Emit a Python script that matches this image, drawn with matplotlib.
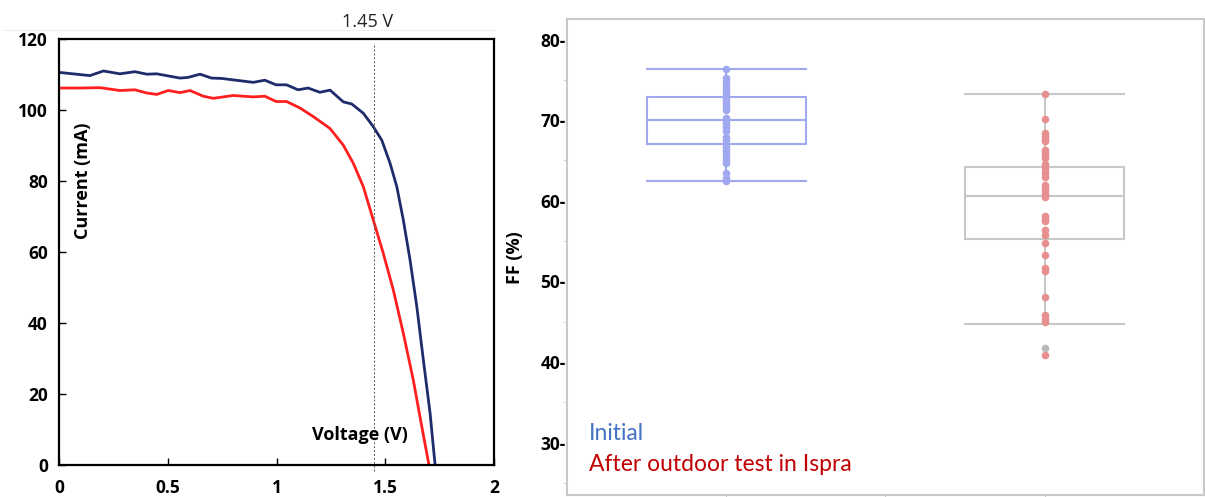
import numpy as np
import matplotlib.pyplot as plt
from matplotlib.ticker import MultipleLocator

# ---- J-V curves (left) ----
v_initial = [0.0, 0.142, 0.204, 0.28, 0.349, 0.403, 0.449, 0.556, 0.594, 0.648,
             0.701, 0.747, 0.893, 0.946, 0.998, 1.046, 1.099, 1.145, 1.199, 1.246,
             1.307, 1.346, 1.399, 1.445, 1.484, 1.522, 1.553, 1.583, 1.614, 1.645,
             1.675, 1.706, 1.729]
i_initial = [110.6, 109.7, 111.0, 110.2, 110.8, 110.1, 110.2, 109.0, 109.2, 110.1,
             109.0, 108.9, 107.8, 108.4, 107.1, 107.1, 105.7, 106.2, 105.0, 105.6,
             102.3, 101.7, 99.1, 95.3, 91.5, 85.0, 78.4, 69.0, 57.7, 44.6,
             29.6, 14.6, 0.0]

v_after = [0.0, 0.096, 0.188, 0.28, 0.349, 0.403, 0.449, 0.502, 0.556, 0.602,
           0.663, 0.709, 0.801, 0.893, 0.946, 0.998, 1.046, 1.107, 1.168, 1.246,
           1.307, 1.353, 1.399, 1.445, 1.491, 1.537, 1.583, 1.629, 1.668, 1.701]
i_after = [106.2, 106.2, 106.3, 105.5, 105.7, 104.8, 104.4, 105.5, 104.9, 105.5,
           103.9, 103.3, 104.1, 103.7, 103.9, 102.4, 102.4, 100.6, 98.2, 94.8,
           90.1, 85.0, 78.4, 69.0, 59.6, 49.3, 37.1, 23.9, 10.8, 0.0]

v_mark = 1.45

# ---- FF distributions (right) ----
groups = ["Initial", "After outdoor test in Ispra"]
ff_initial = [76.3, 75.2, 74.8, 74.4, 74.0, 73.6, 73.2, 72.8, 72.4, 72.0, 71.6, 71.2,
              70.3, 69.9, 69.5, 69.1, 68.7, 67.9, 67.5, 67.1, 66.7, 66.3, 65.9,
              65.5, 65.1, 64.7, 63.5, 62.8, 62.4]
ff_after = [73.2, 70.1, 68.4, 68.0, 67.6, 67.4, 66.3, 65.9, 65.6, 65.3, 64.6, 64.3,
            64.0, 63.5, 63.0, 61.9, 61.6, 61.2, 60.9, 60.5, 58.1, 57.8, 57.5, 56.4,
            55.8, 54.8, 53.3, 51.7, 51.3, 48.1, 45.8, 45.3, 44.9, 40.9]
ff_after_gray = [41.7]

# box statistics as drawn: lower whisker, Q1, median, Q3, upper whisker
box_initial = [62.4, 67.1, 70.0, 72.9, 76.3]
box_after = [44.7, 55.2, 60.6, 64.2, 73.2]

fig = plt.figure(figsize=(12.05, 4.97), dpi=100)
plt.rcParams['font.family'] = ['Open Sans', 'DejaVu Sans']

# left panel
ax1 = fig.add_axes([0.049, 0.064, 0.361, 0.8575])
ax1.plot(v_initial, i_initial, color='#1f2c6b', lw=2)
ax1.plot(v_after, i_after, color='#ff1f1f', lw=2)
ax1.plot([v_mark, v_mark], [-1.5, 119], color='#555555', lw=0.7,
         ls=(0, (2, 2)), clip_on=False)
ax1.set_xlim(0, 2)
ax1.set_ylim(0, 120)
ax1.set_xticks([0, 0.5, 1, 1.5, 2])
ax1.set_xticklabels(['0', '0.5', '1', '1.5', '2'])
ax1.set_yticks(range(0, 121, 20))
ax1.tick_params(direction='in', length=5, width=1, labelsize=12.5, pad=8)
ax1.tick_params(axis='x', pad=10)
for lab in ax1.get_xticklabels() + ax1.get_yticklabels():
    lab.set_fontweight('bold')
for sp in ax1.spines.values():
    sp.set_linewidth(1.6)
ax1.text(0.11, 80, 'Current (mA)', rotation=90, ha='center', va='center',
         fontsize=13, fontweight='bold')
ax1.text(1.384, 8.5, 'Voltage (V)', ha='center', va='center',
         fontsize=13, fontweight='bold')
fig.text(368 / 1205, 1 - 22 / 497, '1.45 V', ha='center', va='center',
         fontsize=13, color='#222222')
fig.add_artist(plt.Line2D([3 / 1205, 494 / 1205], [1 - 30 / 497, 1 - 30 / 497],
                          color='#eeeeee', lw=0.8))

# right panel
ax2 = fig.add_axes([0.4705, 0.004, 0.5285, 0.957])
pos = [0, 1]
c_init = '#a0a8f0'
c_after_box = '#c8c8c8'
c_after_pts = '#e88f8f'

stats = []
for s, name in zip([box_initial, box_after], groups):
    stats.append(dict(whislo=s[0], q1=s[1], med=s[2], q3=s[3], whishi=s[4],
                      fliers=[], label=name))
for p, st, col in zip(pos, stats, [c_init, c_after_box]):
    ax2.bxp([st], positions=[p], widths=0.5, showfliers=False,
            boxprops=dict(color=col, lw=1.5),
            medianprops=dict(color=col, lw=1.5),
            whiskerprops=dict(color=col, lw=1.5),
            capprops=dict(color=col, lw=1.5), capwidths=0.5)

ax2.scatter([pos[0]] * len(ff_initial), ff_initial, s=30, color=c_init,
            zorder=3, linewidths=0)
ax2.scatter([pos[1]] * len(ff_after), ff_after, s=30, color=c_after_pts,
            zorder=3, linewidths=0)
ax2.scatter([pos[1]] * len(ff_after_gray), ff_after_gray, s=30, color='#b8b8b8',
            zorder=3, linewidths=0)

ax2.set_xlim(-0.5, 1.5)
ax2.set_ylim(23.5, 82.5)
ax2.set_xticks([0, 0.5, 1])
ax2.set_xticklabels([])
ax2.set_yticks(range(30, 81, 10))
ax2.set_yticklabels([f'{v}-' for v in range(30, 81, 10)])
ax2.yaxis.set_minor_locator(MultipleLocator(5))
ax2.tick_params(axis='y', which='major', length=0, pad=1, labelsize=12.5)
ax2.tick_params(axis='y', which='minor', length=3, color='#c8c8c8')
ax2.tick_params(axis='x', length=4, color='#c8c8c8')
for lab in ax2.get_yticklabels():
    lab.set_fontweight('bold')
for sp in ax2.spines.values():
    sp.set_color('#c8c8c8')
    sp.set_linewidth(1.5)
ax2.set_ylabel('FF (%)', fontsize=13, fontweight='bold', labelpad=12)

ax2.text(-0.43, 31.1, groups[0], color='#4472c4', fontsize=16.5,
         ha='left', va='center', family=['Lato', 'DejaVu Sans'])
ax2.text(-0.43, 27.3, groups[1], color='#c00000', fontsize=16.5,
         ha='left', va='center', family=['Lato', 'DejaVu Sans'])

fig.savefig('out.png', dpi=100)
